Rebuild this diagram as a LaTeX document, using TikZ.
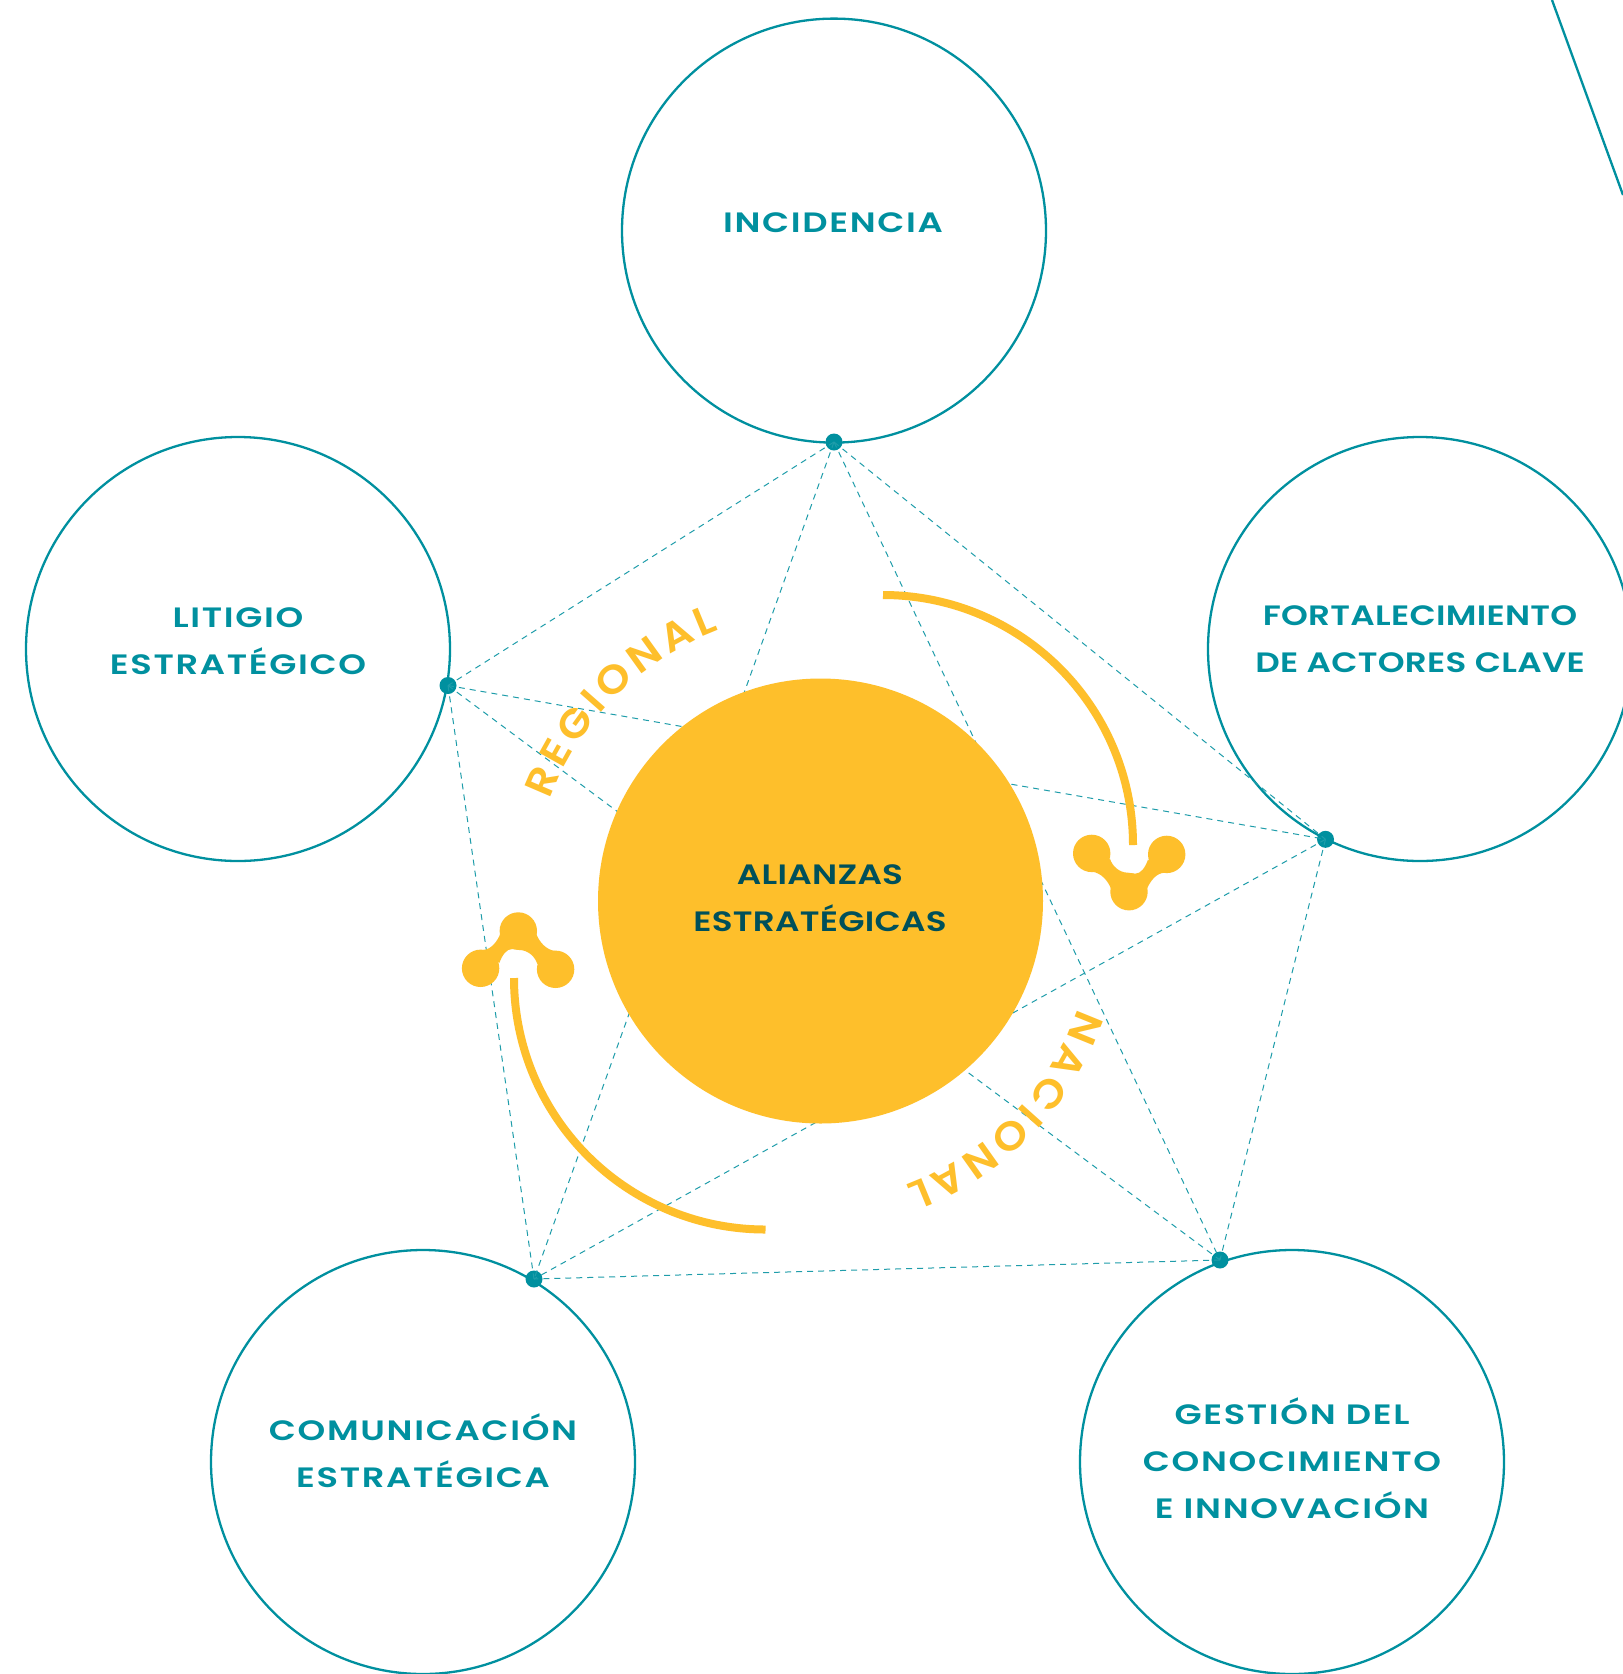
\documentclass[tikz,border=0pt]{standalone}
\usepackage{fontspec}
\usetikzlibrary{decorations.text}
\newfontfamily\lblwide[FakeStretch=1.26,LetterSpace=6]{Poppins SemiBold}
\newfontfamily\lblnorm[FakeStretch=1.22,LetterSpace=1]{Poppins SemiBold}
\newfontfamily\arcfont[FakeStretch=1.08]{Poppins SemiBold}
\definecolor{tealc}{HTML}{00909F}
\definecolor{dashc}{HTML}{1F9DAA}
\definecolor{goldc}{HTML}{FEBF2B}
\definecolor{darkc}{HTML}{00505A}
\tikzset{
  x=1pt,y=1pt,
  bigcirc/.style={circle,draw=tealc,line width=2.3pt,minimum size=424pt,inner sep=0pt},
  pt/.style={circle,fill=tealc,minimum size=17pt,inner sep=0pt},
  link/.style={draw=dashc,line width=1pt,dash pattern=on 6pt off 5pt},
  lblw/.style={align=center,text=tealc,font=\lblwide\fontsize{28}{47}\selectfont,inner sep=0pt},
  lbln/.style={align=center,text=tealc,font=\lblnorm\fontsize{28}{47}\selectfont,inner sep=0pt},
  swoosh/.style={draw=goldc,line width=8pt},
  blobicon/.pic={
    \fill[goldc] (0,0) circle (18.7) (-37.3,38.3) circle (18.7) (37.7,37.3) circle (18.7);
    \fill[goldc] (-37,20) .. controls (-28,19) and (-21,11) .. (-18,3) -- (0,0) -- (18,3)
      .. controls (21,10) and (27,19) .. (36,19) -- (19,32)
      .. controls (16,24) and (12,18) .. (6,18) -- (-1,19)
      .. controls (-10,19) and (-17,26) .. (-19,33) -- cycle;
  }
}
\begin{document}
\begin{tikzpicture}
\useasboundingbox (0,-1674) rectangle (1623,0);
\clip (0,-1674) rectangle (1623,0);
\fill[white] (0,-1674) rectangle (1623,0);
% corner line
\coordinate (edgeA) at (1552,0);
\coordinate (edgeB) at (1623,-195);
\draw[tealc,line width=2.3pt] (edgeA) -- (edgeB);
% big circles
\node[bigcirc] (cInc) at (834,-230.6) {};
\node[bigcirc] (cLit) at (238,-649) {};
\node[bigcirc] (cFor) at (1420,-649) {};
\node[bigcirc] (cCom) at (423,-1462) {};
\node[bigcirc] (cGes) at (1292,-1462) {};
% dots
\node[pt] (dInc) at (834,-442) {};
\node[pt] (dLit) at (448,-685.5) {};
\node[pt] (dFor) at (1325.5,-839.3) {};
\node[pt] (dGes) at (1220,-1260) {};
\node[pt] (dCom) at (534,-1279) {};
% links
\draw[link] (dInc.center) -- (dLit.center);
\draw[link] (dInc.center) -- (dFor.center);
\draw[link] (dInc.center) -- (dGes.center);
\draw[link] (dInc.center) -- (dCom.center);
\draw[link] (dLit.center) -- (dFor.center);
\draw[link] (dLit.center) -- (dGes.center);
\draw[link] (dLit.center) -- (dCom.center);
\draw[link] (dFor.center) -- (dGes.center);
\draw[link] (dFor.center) -- (dCom.center);
\draw[link] (dGes.center) -- (dCom.center);
% centre
\node[circle,fill=goldc,minimum size=445pt,inner sep=0pt] (cAli) at (820.5,-901) {};
\node[lbln,text=darkc] (tAli) at (820,-898.5) {ALIANZAS\\ESTRATÉGICAS};
% labels
\node[lblw] (tInc) at (833,-223) {INCIDENCIA};
\node[lblw] (tLit) at (238,-641) {LITIGIO\\ESTRATÉGICO};
\node[lbln] (tFor) at (1420,-639) {FORTALECIMIENTO\\DE ACTORES CLAVE};
\node[lblw] (tCom) at (423,-1451) {COMUNICACIÓN\\ESTRATÉGICA};
\node[lblw] (tGes) at (1292,-1458.6) {GESTIÓN DEL\\CONOCIMIENTO\\E INNOVACIÓN};
% swooshes
\draw[swoosh] (883,-595) arc (90:0:250);
\draw[swoosh] (514,-978) arc (180:270:251.5);
\pic at (1129,-891.7) {blobicon};
\pic[rotate=180] at (518.3,-931) {blobicon};
% arc texts
\path[decorate,decoration={text along path,text align=fit to path,
  text={|\arcfont\fontsize{40}{40}\selectfont\color{goldc}|REGIONAL}}]
  (820.5,-901) ++(159.5:289) arc (159.5:110.5:289);
\path[decorate,decoration={text along path,text align=fit to path,
  text={|\arcfont\fontsize{40}{40}\selectfont\color{goldc}|NACIONAL}}]
  (805,-914) ++(-19:289) arc (-19:-69.6:289);
\end{tikzpicture}
\end{document}
